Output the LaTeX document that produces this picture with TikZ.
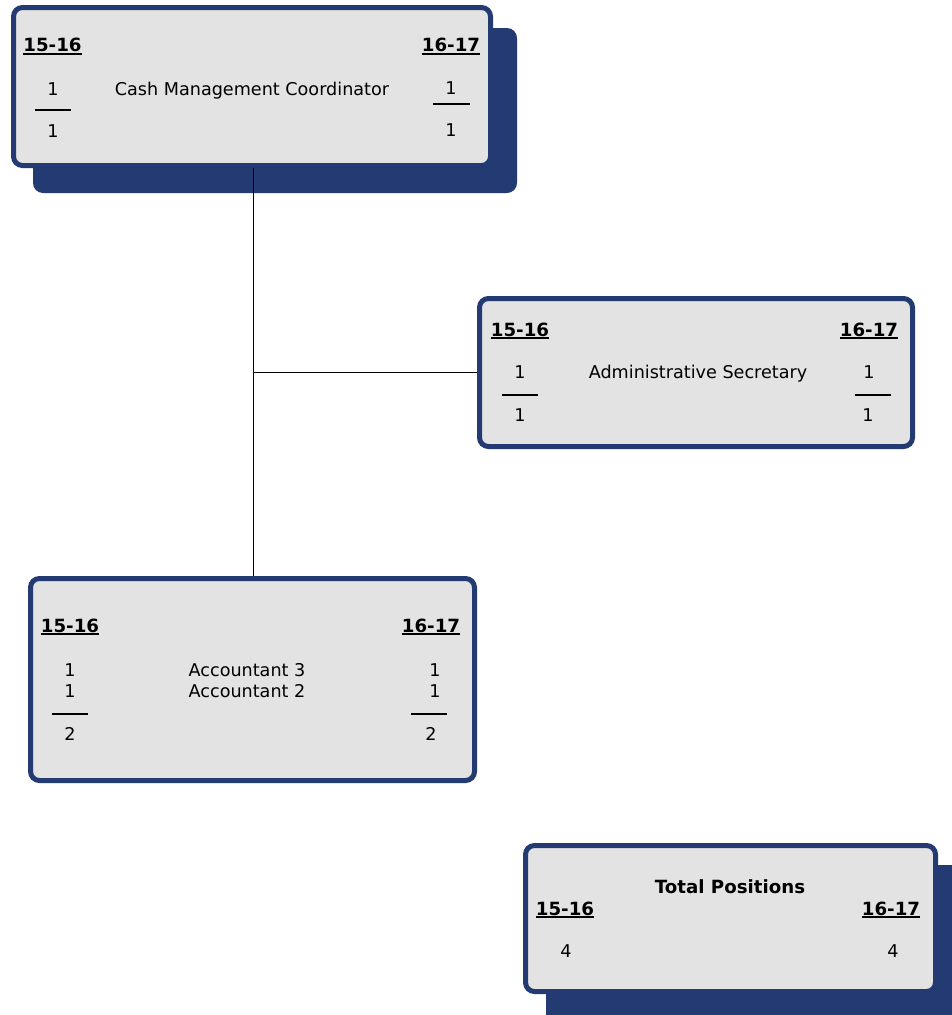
\documentclass[tikz,border=0pt]{standalone}
\usepackage{fontspec}
\setmainfont{DejaVu Sans}
\definecolor{navy}{RGB}{36,58,114}
\definecolor{boxgray}{RGB}{227,227,227}
\begin{document}
\begin{tikzpicture}[x=1pt,y=-1pt,
  every node/.style={font=\fontsize{17.6}{20}\selectfont},
  card/.style={draw=navy, fill=boxgray, line width=5pt, rounded corners=9pt, inner sep=0pt},
  shadowbox/.style={fill=navy, rounded corners=10pt},
  hdr/.style={anchor=base, inner sep=0pt, font=\fontsize{18.2}{20}\selectfont\bfseries},
  txt/.style={anchor=base, inner sep=0pt},
  bar/.style={line width=1.6pt},
  uline/.style={line width=1.8pt},
  conn/.style={line width=1pt}]
\useasboundingbox[fill=white] (0,0) rectangle (952,1015);
% shadows
\fill[shadowbox] (33,28) rectangle (517,193);
\fill[shadowbox] (546,865) rectangle (975,1040);
% boxes
\node[card, minimum width=477pt, minimum height=158pt] (b1) at (252,86.5) {};
\node[card, minimum width=433pt, minimum height=148pt] (b2) at (696,372.5) {};
\node[card, minimum width=444pt, minimum height=202pt] (b3) at (252.5,679.5) {};
\node[card, minimum width=410pt, minimum height=146pt] (b4) at (730.5,918.5) {};
% connectors
\coordinate (j) at (253.5,372.5);
\draw[conn] (b1.south -| j) -- (b3.north -| j);
\draw[conn] (j) -- (b2.west);
% box 1
\node[hdr] (h1a) at (52.5,51.5) {15-16};
\node[hdr] (h1b) at (451,51.5) {16-17};
\node[txt] (t1) at (252,95) {Cash Management Coordinator};
\node[txt] (n1a) at (53,95) {1};
\node[txt] (n1b) at (53,137) {1};
\node[txt] (n1c) at (451,94.5) {1};
\node[txt] (n1d) at (451,136) {1};
\coordinate (l1a) at (35,110); \coordinate (l1b) at (71,110);
\coordinate (l1c) at (433,104); \coordinate (l1d) at (470,104);
\draw[bar] (l1a) -- (l1b);
\draw[bar] (l1c) -- (l1d);
% box 2
\node[hdr] (h2a) at (520,336) {15-16};
\node[hdr] (h2b) at (869,336) {16-17};
\node[txt] (t2) at (698,378) {Administrative Secretary};
\node[txt] (n2a) at (520,378) {1};
\node[txt] (n2b) at (520,421) {1};
\node[txt] (n2c) at (869,378) {1};
\node[txt] (n2d) at (868,421) {1};
\coordinate (l2a) at (502,395); \coordinate (l2b) at (538,395);
\coordinate (l2c) at (855,395); \coordinate (l2d) at (891,395);
\draw[bar] (l2a) -- (l2b);
\draw[bar] (l2c) -- (l2d);
% box 3
\node[hdr] (h3a) at (70,632) {15-16};
\node[hdr] (h3b) at (431,632) {16-17};
\node[txt] (t3a) at (247,676) {Accountant 3};
\node[txt] (t3b) at (247,697) {Accountant 2};
\node[txt] (n3a) at (70,676) {1};
\node[txt] (n3b) at (70,697) {1};
\node[txt] (n3c) at (70,740) {2};
\node[txt] (n3d) at (435,676) {1};
\node[txt] (n3e) at (435,697) {1};
\node[txt] (n3f) at (431,740) {2};
\coordinate (l3a) at (52,714); \coordinate (l3b) at (88,714);
\coordinate (l3c) at (411,714); \coordinate (l3d) at (447,714);
\draw[bar] (l3a) -- (l3b);
\draw[bar] (l3c) -- (l3d);
% box 4
\node[hdr] (t4) at (730,893) {Total Positions};
\node[hdr] (h4a) at (565,915) {15-16};
\node[hdr] (h4b) at (891,915) {16-17};
\node[txt] (n4a) at (566,957) {4};
\node[txt] (n4b) at (893,957) {4};
% header underlines
\foreach \h in {h1a,h1b,h2a,h2b,h3a,h3b,h4a,h4b}
  \draw[uline] ([yshift=-2.2pt]\h.base west) -- ([yshift=-2.2pt]\h.base east);
\end{tikzpicture}
\end{document}
